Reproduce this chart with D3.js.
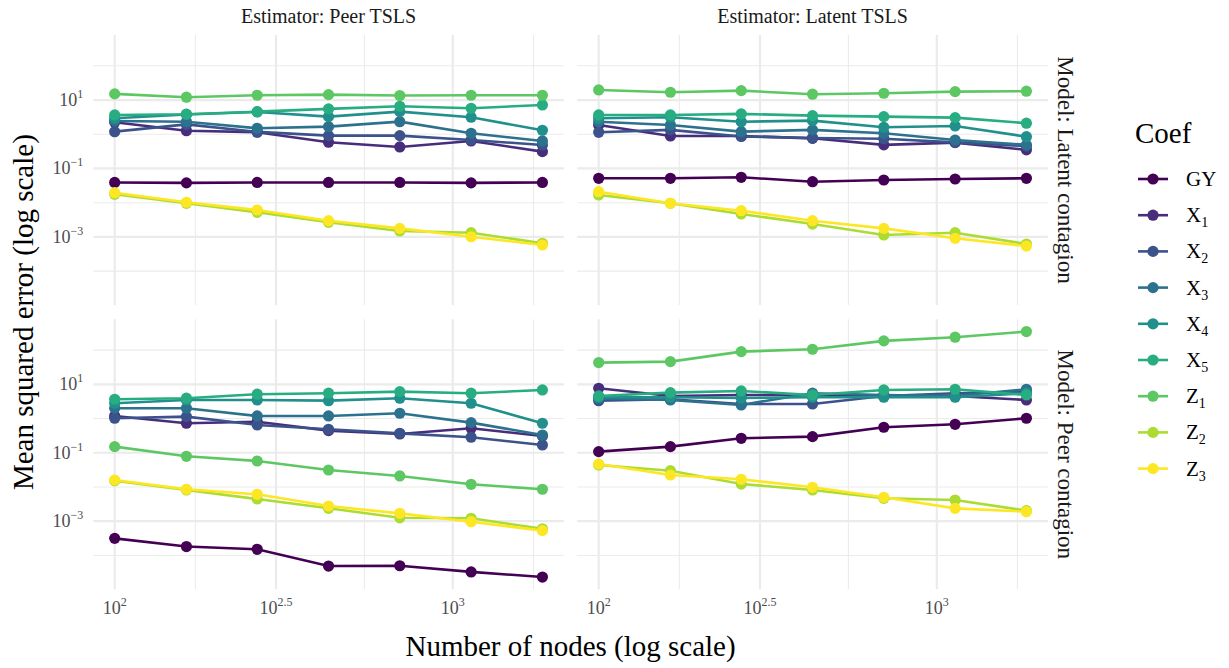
<!DOCTYPE html>
<html>
<head>
<meta charset="utf-8">
<script src="https://cdn.jsdelivr.net/npm/d3@7"></script>
<style>
  body { margin: 0; background: #fff; }
  text { font-family: "Liberation Serif", serif; }
</style>
</head>
<body>
<svg width="1229" height="668"></svg>
<script>
// number of nodes (x)
const nodes = [100, 163, 264, 429, 697, 1133, 1841];

const coefs = ["GY", "X1", "X2", "X3", "X4", "X5", "Z1", "Z2", "Z3"];
const coefBase = ["GY", "X", "X", "X", "X", "X", "Z", "Z", "Z"];
const coefSub = ["", "1", "2", "3", "4", "5", "1", "2", "3"];
const coefColors = ["#440154", "#472D7B", "#3B528B", "#2C728E", "#21908C", "#27AD81", "#5DC863", "#AADC32", "#FDE725"];

const estimators = ["Peer TSLS", "Latent TSLS"];
const models = ["Latent contagion", "Peer contagion"];

const xTicks = [100, 300, 1000];
const xTickExp = ["2", "2.5", "3"];
const yTicks = [1e-3, 1e-1, 1e1];
const yTickExp = ["\u22123", "\u22121", "1"];

// mean squared error, one row per coef (same order as coefs)
// Model: Latent contagion / Estimator: Peer TSLS
const mseLatentPeerTsls = [
  [0.039, 0.038, 0.039, 0.039, 0.039, 0.038, 0.039],
  [2.24, 1.27, 1.15, 0.583, 0.426, 0.637, 0.31],
  [1.19, 1.94, 1.17, 0.91, 0.91, 0.68, 0.486],
  [2.45, 2.33, 1.50, 1.67, 2.33, 1.07, 0.637],
  [2.94, 3.79, 4.49, 3.27, 4.58, 3.14, 1.31],
  [3.66, 3.85, 4.58, 5.50, 6.59, 5.75, 7.19],
  [15.1, 12.1, 13.8, 14.4, 13.5, 13.8, 13.8],
  [0.0176, 0.0096, 0.00524, 0.00267, 0.00149, 0.00133, 0.00065],
  [0.0196, 0.0103, 0.00612, 0.00298, 0.00178, 0.00101, 0.00058]
];
// Model: Latent contagion / Estimator: Latent TSLS
const mseLatentLatentTsls = [
  [0.0516, 0.0516, 0.0553, 0.0411, 0.0461, 0.0493, 0.0516],
  [1.87, 0.89, 0.89, 0.76, 0.49, 0.57, 0.35],
  [1.14, 1.34, 0.86, 0.78, 0.74, 0.58, 0.45],
  [2.33, 1.87, 1.19, 1.34, 1.07, 0.68, 0.49],
  [2.94, 3.14, 2.33, 2.50, 1.60, 1.75, 0.85],
  [3.66, 3.66, 3.93, 3.50, 3.27, 3.06, 2.10],
  [19.7, 16.9, 18.8, 14.8, 15.8, 17.6, 18.1],
  [0.0168, 0.0096, 0.00468, 0.00238, 0.00114, 0.00133, 0.00062],
  [0.0210, 0.0096, 0.00583, 0.00298, 0.00178, 0.00091, 0.00054]
];
// Model: Peer contagion / Estimator: Peer TSLS
const msePeerPeerTsls = [
  [0.000316, 0.000182, 0.000151, 0.000049, 0.000050, 0.000033, 0.0000234],
  [1.19, 0.73, 0.81, 0.443, 0.355, 0.52, 0.31],
  [1.02, 1.14, 0.65, 0.486, 0.37, 0.284, 0.169],
  [2.0, 2.0, 1.19, 1.19, 1.43, 0.76, 0.33],
  [2.8, 3.5, 3.5, 3.33, 3.93, 2.8, 0.73],
  [3.66, 3.93, 5.14, 5.5, 6.12, 5.5, 6.85],
  [0.151, 0.079, 0.0575, 0.0314, 0.021, 0.012, 0.0086],
  [0.0153, 0.0082, 0.00446, 0.00238, 0.00126, 0.00122, 0.0006],
  [0.016, 0.0086, 0.00612, 0.00278, 0.0017, 0.00097, 0.00053]
];
// Model: Peer contagion / Estimator: Latent TSLS
const msePeerLatentTsls = [
  [0.108, 0.151, 0.265, 0.296, 0.557, 0.68, 1.02],
  [7.69, 4.58, 4.9, 4.9, 4.58, 4.58, 3.5],
  [3.33, 3.66, 2.67, 2.67, 4.58, 5.5, 6.12],
  [3.93, 3.5, 2.5, 5.5, 4.9, 4.58, 7.19],
  [4.2, 4.2, 4.0, 4.2, 4.2, 4.2, 5.5],
  [4.58, 5.71, 6.41, 4.9, 6.85, 7.19, 4.9],
  [43.2, 46.1, 90.4, 106, 186, 238, 348],
  [0.044, 0.030, 0.0122, 0.0082, 0.00468, 0.00417, 0.00203],
  [0.047, 0.0224, 0.0168, 0.0098, 0.005, 0.00238, 0.0019]
];

const panels = [
  { row: 0, col: 0, data: mseLatentPeerTsls },
  { row: 0, col: 1, data: mseLatentLatentTsls },
  { row: 1, col: 0, data: msePeerPeerTsls },
  { row: 1, col: 1, data: msePeerLatentTsls }
];

const svg = d3.select("svg");
const panelLeft = [93.3, 577.3];
const panelTop = [35, 319.3];
const panelW = 470.5;
const panelH = 270;

// log domains with 5% expansion, like ggplot
const expandLog = (ext) => {
  const l0 = Math.log10(ext[0]), l1 = Math.log10(ext[1]);
  const pad = 0.05 * (l1 - l0);
  return [Math.pow(10, l0 - pad), Math.pow(10, l1 + pad)];
};
const allVals = panels.flatMap(p => p.data.flat());
const x = d3.scaleLog().domain(expandLog(d3.extent(nodes))).range([0, panelW]);
const y = d3.scaleLog().domain(expandLog(d3.extent(allVals))).range([panelH, 0]);

// minor breaks halfway between majors (in log space)
const minorBreaks = (major, dom) => {
  const b = major.map(Math.log10);
  const d = dom.map(Math.log10);
  const bd = b[1] - b[0];
  if (d[0] < b[0]) b.unshift(b[0] - bd);
  if (d[1] > b[b.length - 1]) b.push(b[b.length - 1] + bd);
  const m = [];
  for (let i = 0; i < b.length - 1; i++) m.push((b[i] + b[i + 1]) / 2);
  return m.filter(v => v > d[0] && v < d[1]).map(v => Math.pow(10, v));
};
const xMinor = minorBreaks(xTicks, x.domain());
const yMinor = minorBreaks(yTicks, y.domain());

const line = d3.line().x(d => x(d.n)).y(d => y(d.v));

panels.forEach(p => {
  const g = svg.append("g")
    .attr("transform", `translate(${panelLeft[p.col]},${panelTop[p.row]})`);

  g.selectAll("line.ymin").data(yMinor).enter().append("line")
    .attr("x1", 0).attr("x2", panelW)
    .attr("y1", d => y(d)).attr("y2", d => y(d))
    .attr("stroke", "#EBEBEB").attr("stroke-width", 1.1);
  g.selectAll("line.xmin").data(xMinor).enter().append("line")
    .attr("y1", 0).attr("y2", panelH)
    .attr("x1", d => x(d)).attr("x2", d => x(d))
    .attr("stroke", "#EBEBEB").attr("stroke-width", 1.1);
  g.selectAll("line.ymaj").data(yTicks).enter().append("line")
    .attr("x1", 0).attr("x2", panelW)
    .attr("y1", d => y(d)).attr("y2", d => y(d))
    .attr("stroke", "#EBEBEB").attr("stroke-width", 2.2);
  g.selectAll("line.xmaj").data(xTicks).enter().append("line")
    .attr("y1", 0).attr("y2", panelH)
    .attr("x1", d => x(d)).attr("x2", d => x(d))
    .attr("stroke", "#EBEBEB").attr("stroke-width", 2.2);

  const series = coefs.map((c, i) => ({
    coef: c,
    color: coefColors[i],
    pts: nodes.map((n, j) => ({ n: n, v: p.data[i][j] }))
  }));

  g.selectAll("path.series").data(series).enter().append("path")
    .attr("d", d => line(d.pts))
    .attr("fill", "none")
    .attr("stroke", d => d.color)
    .attr("stroke-width", 2.6);

  series.forEach(s => {
    g.selectAll(null).data(s.pts).enter().append("circle")
      .attr("cx", d => x(d.n))
      .attr("cy", d => y(d.v))
      .attr("r", 5.6)
      .attr("fill", s.color);
  });

  // y tick labels on left column
  if (p.col === 0) {
    yTicks.forEach((t, i) => {
      const tx = svg.append("text")
        .attr("x", panelLeft[0] - 10)
        .attr("y", panelTop[p.row] + y(t) + 6)
        .attr("text-anchor", "end")
        .attr("fill", "#4D4D4D")
        .attr("font-size", 18);
      tx.append("tspan").text("10");
      tx.append("tspan").attr("dy", -8).attr("font-size", 12).text(yTickExp[i]);
    });
  }
  // x tick labels on bottom row
  if (p.row === 1) {
    xTicks.forEach((t, i) => {
      const tx = svg.append("text")
        .attr("x", panelLeft[p.col] + x(t))
        .attr("y", 614)
        .attr("text-anchor", "middle")
        .attr("fill", "#4D4D4D")
        .attr("font-size", 18);
      tx.append("tspan").text("10");
      tx.append("tspan").attr("dy", -8).attr("font-size", 12).text(xTickExp[i]);
    });
  }
});

// strips
estimators.forEach((e, i) => {
  svg.append("text")
    .attr("x", panelLeft[i] + panelW / 2)
    .attr("y", 23)
    .attr("text-anchor", "middle")
    .attr("fill", "#1A1A1A")
    .attr("font-size", 20)
    .text(`Estimator: ${e}`);
});
models.forEach((m, i) => {
  svg.append("text")
    .attr("transform", `translate(1065,${panelTop[i] + panelH / 2}) rotate(90)`)
    .attr("text-anchor", "middle")
    .attr("dominant-baseline", "central")
    .attr("fill", "#1A1A1A")
    .attr("font-size", 23)
    .text(`Model: ${m}`);
});

// axis titles
svg.append("text")
  .attr("x", (panelLeft[0] + panelLeft[1] + panelW) / 2)
  .attr("y", 656)
  .attr("text-anchor", "middle")
  .attr("font-size", 29)
  .text("Number of nodes (log scale)");
svg.append("text")
  .attr("transform", `translate(23,${(panelTop[0] + panelTop[1] + panelH) / 2}) rotate(-90)`)
  .attr("text-anchor", "middle")
  .attr("dominant-baseline", "central")
  .attr("font-size", 29)
  .text("Mean squared error (log scale)");

// legend
const legend = svg.append("g").attr("transform", "translate(1135,0)");
legend.append("text")
  .attr("x", 0).attr("y", 143)
  .attr("font-size", 29)
  .text("Coef");
const items = legend.selectAll("g.item").data(coefs).enter().append("g")
  .attr("transform", (d, i) => `translate(0,${179 + i * 36.2})`);
items.append("line")
  .attr("x1", 3).attr("x2", 33)
  .attr("stroke", (d, i) => coefColors[i])
  .attr("stroke-width", 2.6);
items.append("circle")
  .attr("cx", 18).attr("r", 5.6)
  .attr("fill", (d, i) => coefColors[i]);
const lab = items.append("text")
  .attr("x", 51).attr("y", 7)
  .attr("font-size", 21);
lab.append("tspan").text((d, i) => coefBase[i]);
lab.append("tspan")
  .attr("dy", 5).attr("font-size", 14)
  .text((d, i) => coefSub[i]);
</script>
</body>
</html>
